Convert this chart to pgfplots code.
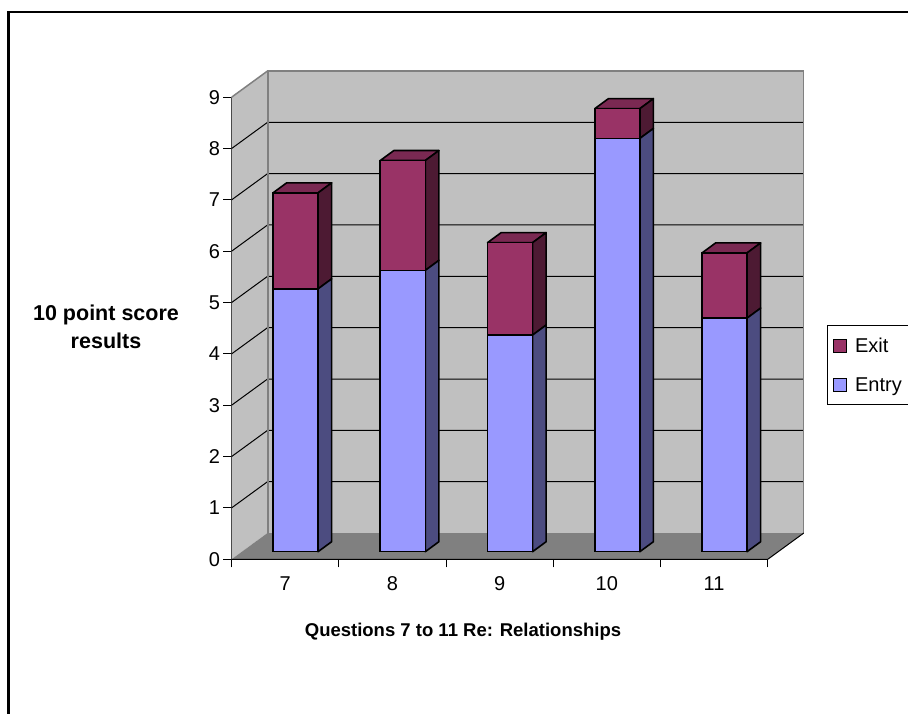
\documentclass[border=0pt]{standalone}
\usepackage{fontspec}
\setmainfont{Liberation Sans}
\usepackage{pgfplots}
\pgfplotsset{compat=1.18}
\usepackage{pgfplotstable}

\definecolor{entryfront}{HTML}{9999FF}
\definecolor{entryside}{HTML}{4C4C80}
\definecolor{exitfront}{HTML}{993366}
\definecolor{exitside}{HTML}{4D1A33}
\definecolor{exittop}{HTML}{7A2952}
\definecolor{wallgrey}{HTML}{C0C0C0}
\definecolor{floorgrey}{HTML}{808080}

% x = bar centre, entry / exit scores
\pgfplotstableread{
x    entry exit
0.5  5.12  1.87
1.5  5.48  2.14
2.5  4.22  1.80
3.5  8.05  0.58
4.5  4.55  1.27
}\scores

\newcommand\lbl{\fontsize{20}{24}\selectfont}

% both axes share the same box; its lower left corner is the origin
\pgfplotsset{box/.style={
    scale only axis, width=572.3pt, height=488.3pt,
    xmin=-0.097, xmax=5.239, ymin=-0.148, ymax=9.364}}

\begin{document}
\begin{tikzpicture}[x=1pt,y=1pt]
  \useasboundingbox (-231.5,-154.7) rectangle (676.5,559.3);
  \fill[white] (-231.5,-154.7) rectangle (676.5,559.3);
  \draw[line width=2.5pt] (-223,-156) -- (-223,547.3) -- (678,547.3);

  % walls, floor, gridlines and ticks
  \begin{axis}[
      box,
      axis line style={draw=none},
      tick pos=left, tick align=outside,
      major tick length=8pt,
      tick style={black, line width=1pt},
      ytick={-0.148,0.852,1.852,2.852,3.852,4.852,5.852,6.852,7.852,8.852},
      yticklabels={0,1,2,3,4,5,6,7,8,9},
      xtick={-0.097,0.903,1.903,2.903,3.903,4.903},
      xticklabels={7,8,9,10,11,},
      xticklabel style={xshift=53.6pt, yshift=-6pt},
      tick label style={font=\lbl},
    ]
    \fill[wallgrey] (axis cs:-0.097,-0.148) -- (axis cs:0.239,0.364)
      -- (axis cs:0.239,9.364) -- (axis cs:-0.097,8.852) -- cycle;
    \fill[wallgrey] (axis cs:0.239,0.364) rectangle (axis cs:5.239,9.364);
    \fill[floorgrey] (axis cs:-0.097,-0.148) -- (axis cs:4.903,-0.148)
      -- (axis cs:5.239,0.364) -- (axis cs:0.239,0.364) -- cycle;
    \pgfplotsinvokeforeach{1,...,8}{
      \pgfmathsetmacro\gf{#1-0.148}
      \pgfmathsetmacro\gb{#1+0.364}
      \edef\grid{\noexpand\draw[black,line width=1pt]
        (axis cs:-0.097,\gf) -- (axis cs:0.239,\gb) -- (axis cs:5.239,\gb);}
      \grid
    }
    \draw[floorgrey,line width=2pt] (axis cs:0.239,0.364) -- (axis cs:0.239,9.364)
      -- (axis cs:5.239,9.364) -- (axis cs:5.239,0.364);
    \draw[floorgrey,line width=1.5pt] (axis cs:-0.097,8.852) -- (axis cs:0.239,9.364);
    \draw[black,line width=1pt] (axis cs:-0.097,8.852) -- (axis cs:-0.097,-0.148)
      -- (axis cs:4.903,-0.148) -- (axis cs:5.239,0.364);
  \end{axis}

  % columns
  \begin{axis}[
      box,
      hide axis,
      ybar stacked, bar width=0.42,
      legend style={at={(1.0405,0.4798)}, anchor=north west,
        draw=black, line width=1.2pt, font=\lbl,
        row sep=20pt, inner xsep=5pt, inner ysep=10pt},
      legend cell align=left,
      reverse legend,
      legend image code/.code={
        \draw[#1,draw=black,line width=1pt] (0pt,-6.5pt) rectangle (13pt,6.5pt);
        \path[draw=none,fill=none] (0pt,0pt) -- (20pt,0pt);},
    ]
    \addplot[fill=entryfront, draw=black, line width=1.6pt]
      table[x=x, y=entry] {\scores};
    \addlegendentry{Entry}
    \addplot[fill=exitfront, draw=black, line width=1.6pt]
      table[x=x, y=exit] {\scores};
    \addlegendentry{Exit}

    % depth faces of the columns
    \pgfplotsinvokeforeach{0,...,4}{
      \pgfplotstablegetelem{#1}{entry}\of\scores \let\ve\pgfplotsretval
      \pgfplotstablegetelem{#1}{exit}\of\scores \let\vx\pgfplotsretval
      \pgfmathsetmacro\xl{#1+0.5-0.21}
      \pgfmathsetmacro\xr{#1+0.5+0.21}
      \pgfmathsetmacro\xll{\xl+0.127}
      \pgfmathsetmacro\xrr{\xr+0.127}
      \pgfmathsetmacro\ye{\ve}
      \pgfmathsetmacro\yee{\ve+0.195}
      \pgfmathsetmacro\yt{\ve+\vx}
      \pgfmathsetmacro\ytt{\yt+0.195}
      \edef\faces{%
        \noexpand\filldraw[fill=entryside,draw=black,line width=1.6pt,line join=round]
          (axis cs:\xr,0) -- (axis cs:\xrr,0.195) -- (axis cs:\xrr,\yee) -- (axis cs:\xr,\ye) -- cycle;
        \noexpand\filldraw[fill=exitside,draw=black,line width=1.6pt,line join=round]
          (axis cs:\xr,\ye) -- (axis cs:\xrr,\yee) -- (axis cs:\xrr,\ytt) -- (axis cs:\xr,\yt) -- cycle;
        \noexpand\filldraw[fill=exittop,draw=black,line width=1.6pt,line join=round]
          (axis cs:\xl,\yt) -- (axis cs:\xr,\yt) -- (axis cs:\xrr,\ytt) -- (axis cs:\xll,\ytt) -- cycle;
      }
      \faces
    }
  \end{axis}

  \node[font=\fontsize{21.5}{28}\selectfont\bfseries, align=center] at (-125.5,232.3)
    {10 point score\\results};
  \node[font=\fontsize{18.5}{22}\selectfont\bfseries] at (231.5,-72.7)
    {Questions 7 to 11 Re: Relationships};
\end{tikzpicture}
\end{document}
